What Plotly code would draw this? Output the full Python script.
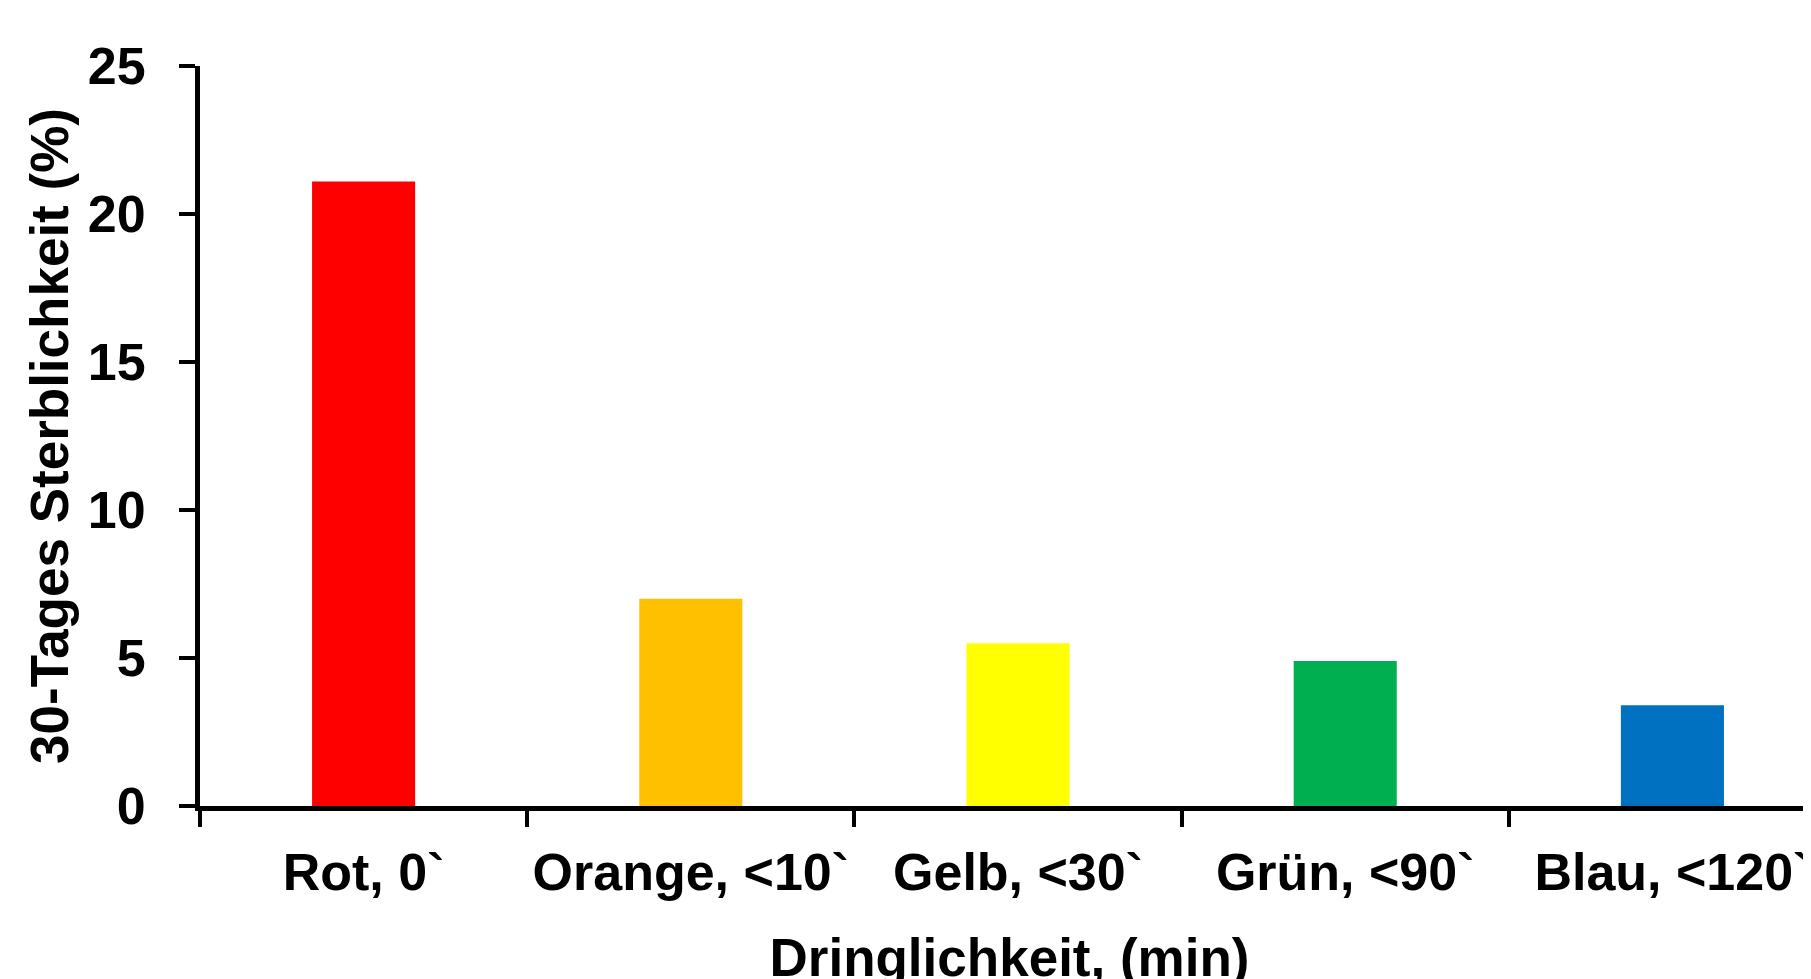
import plotly.graph_objects as go

categories = ["Rot, 0`", "Orange, <10`", "Gelb, <30`", "Grün, <90`", "Blau, <120`"]
values = [21.1, 7.0, 5.5, 4.9, 3.4]
colors = ["#FF0000", "#FFC000", "#FFFF00", "#00B050", "#0070C0"]
y_ticks = [0, 5, 10, 15, 20, 25]

FONT = "Liberation Sans, Arial, sans-serif"

fig = go.Figure(go.Bar(x=categories, y=values, marker=dict(color=colors, line=dict(width=0))))

fig.update_layout(
    width=1811, height=979,
    margin=dict(l=192, r=0, t=58, b=181),
    paper_bgcolor="white", plot_bgcolor="white",
    bargap=0.685,
    showlegend=False,
    font=dict(family=FONT, size=52, color="black", weight="bold"),
)
fig.update_xaxes(
    type="category",
    range=[-0.5, 4.448],
    automargin=False,
    tickangle=0,
    showline=True, linecolor="black", linewidth=5,
    ticks="outside", tickson="boundaries", ticklen=16, tickwidth=4, tickcolor="black",
    tickfont=dict(size=52, family=FONT, weight="bold"),
    ticklabelstandoff=17,
    showgrid=False, zeroline=False,
    title=dict(text="Dringlichkeit, (min)", font=dict(size=53, family=FONT, weight="bold"), standoff=41),
)
fig.update_yaxes(
    range=[0, 25],
    automargin=False,
    tickvals=y_ticks,
    showline=True, linecolor="black", linewidth=5,
    ticks="outside", ticklen=16, tickwidth=4, tickcolor="black",
    tickfont=dict(size=52, family=FONT, weight="bold"),
    ticklabelstandoff=23,
    showgrid=False, zeroline=False,
    title=dict(text="30-Tages Sterblichkeit (%)", font=dict(size=53, family=FONT, weight="bold"), standoff=4),
)

fig.write_html("out.html")
